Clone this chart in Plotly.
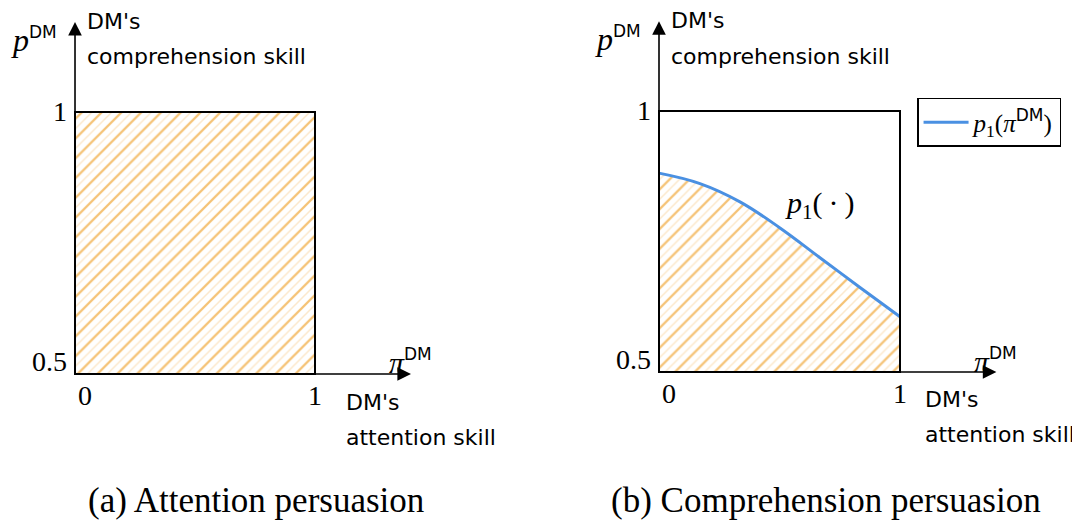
import plotly.graph_objects as go

# ---- data ----
pi_vals = [0.0, 0.17, 0.336, 0.502, 0.668, 0.834, 1.0]
p1_vals = [0.881, 0.861, 0.826, 0.776, 0.719, 0.662, 0.606]
x_ticks = [0, 1]
x_ticklabels = ["0", "1"]
y_ticks = [0.5, 1]
y_ticklabels = ["0.5", "1"]
captions = ["(a) Attention persuasion", "(b) Comprehension persuasion"]
DMSUP = "<sup><span style='font-family:DejaVu Sans;font-size:17px'>DM</span></sup>"
legend_name = "<i>p</i><sub>1</sub>(<i>π</i>" + DMSUP + ")"

SERIF = "Liberation Serif"
SANS = "DejaVu Sans"
LIGHT = "#f9d298"
DARK = "#ee9c1e"
BLUE = "#4a90e2"

fig = go.Figure()

HATCH = [(LIGHT, 7, 0.22), (DARK, 14, 0.17)]

# panel (a) hatched square
sq_x = [x_ticks[0], x_ticks[1], x_ticks[1], x_ticks[0], x_ticks[0]]
sq_y = [y_ticks[0], y_ticks[0], y_ticks[1], y_ticks[1], y_ticks[0]]
for col, sz, sol in HATCH:
    fig.add_trace(go.Scatter(x=sq_x, y=sq_y, xaxis="x", yaxis="y", mode="lines",
                             line=dict(width=0), fill="toself", fillcolor="rgba(0,0,0,0)",
                             fillpattern=dict(shape="/", fgcolor=col, bgcolor="rgba(0,0,0,0)",
                                              size=sz, solidity=sol),
                             showlegend=False, hoverinfo="skip"))

# panel (b) hatched area under the curve
for col, sz, sol in HATCH:
    fig.add_trace(go.Scatter(x=[pi_vals[0], pi_vals[-1]], y=[y_ticks[0], y_ticks[0]],
                             xaxis="x2", yaxis="y2", mode="lines", line=dict(width=0),
                             showlegend=False, hoverinfo="skip"))
    fig.add_trace(go.Scatter(x=pi_vals, y=p1_vals, xaxis="x2", yaxis="y2", mode="lines",
                             line=dict(width=0, shape="spline", smoothing=1.1), fill="tonexty",
                             fillcolor="rgba(0,0,0,0)",
                             fillpattern=dict(shape="/", fgcolor=col, bgcolor="rgba(0,0,0,0)",
                                              size=sz, solidity=sol),
                             showlegend=False, hoverinfo="skip"))

fig.add_trace(go.Scatter(x=pi_vals, y=p1_vals, xaxis="x2", yaxis="y2", mode="lines",
                         line=dict(color=BLUE, width=3, shape="spline", smoothing=1.1),
                         name=legend_name, showlegend=True))

shapes = []
annotations = []
def ann(xa, ya, x, y, text, font, size, xanchor="center", yanchor="middle", xs=0, ys=0):
    annotations.append(dict(xref=xa, yref=ya, x=x, y=y, text=text, showarrow=False,
                            xanchor=xanchor, yanchor=yanchor, xshift=xs, yshift=ys,
                            font=dict(family=font, size=size, color="black")))

for xa, ya, lx in [("x", "y", 1.12), ("x2", "y2", 1.095)]:
    shapes.append(dict(type="rect", xref=xa, yref=ya, x0=x_ticks[0], x1=x_ticks[1],
                       y0=y_ticks[0], y1=y_ticks[1], line=dict(color="black", width=2)))
    # axis arrows
    annotations.append(dict(xref=xa, yref=ya, axref=xa, ayref=ya, x=1.40, y=y_ticks[0],
                            ax=x_ticks[0], ay=y_ticks[0], showarrow=True, arrowhead=2,
                            arrowsize=1.7, arrowwidth=1.6, arrowcolor="black", text=""))
    annotations.append(dict(xref=xa, yref=ya, axref=xa, ayref=ya, x=x_ticks[0], y=1.172,
                            ax=x_ticks[0], ay=y_ticks[0], showarrow=True, arrowhead=2,
                            arrowsize=1.7, arrowwidth=1.6, arrowcolor="black", text=""))
    # tick labels
    for v, t in zip(x_ticks, x_ticklabels):
        ann(xa, ya, v, y_ticks[0], t, SERIF, 28, ys=-21, xs=(10 if v == 0 else 0))
    for v, t in zip(y_ticks, y_ticklabels):
        ann(xa, ya, x_ticks[0], v, t, SERIF, 28, xanchor="right", xs=-6,
            ys=(13 if v == y_ticks[0] else 1))
    # axis titles
    ann(xa, ya, -0.275, 1.137, "<i>p</i>" + DMSUP, SERIF, 32, xanchor="left")
    ann(xa, ya, 0.04, 1.1737, "DM's", SANS, 22, xanchor="left")
    ann(xa, ya, 0.04, 1.105, "comprehension skill", SANS, 22, xanchor="left")
    ann(xa, ya, 1.30, 0.523, "<i>π</i>" + DMSUP, SERIF, 30, xanchor="left")
    ann(xa, ya, lx, 0.4466, "DM's", SANS, 22, xanchor="left")
    ann(xa, ya, lx, 0.3798, "attention skill", SANS, 22, xanchor="left")

ann("x2", "y2", 0.668, 0.82, "<i>p</i><sub>1</sub>(\u2009·\u2009)", SERIF, 30)
ann("paper", "paper", 0.2313, 0.0409, captions[0], SERIF, 35)
ann("paper", "paper", 0.7631, 0.0409, captions[1], SERIF, 35)

fig.update_layout(
    width=1072, height=513, margin=dict(l=0, r=0, t=0, b=0),
    paper_bgcolor="white", plot_bgcolor="white",
    xaxis=dict(domain=[0, 0.5], range=[-0.2792, 1.9542], visible=False),
    yaxis=dict(domain=[0, 1], range=[0.2195, 1.1985], visible=False),
    xaxis2=dict(domain=[0.5, 1], range=[-0.4772, 1.7469], visible=False),
    yaxis2=dict(domain=[0, 1], range=[0.2146, 1.1973], visible=False),
    shapes=shapes, annotations=annotations,
    legend=dict(x=0.848, y=0.8246, xanchor="left", yanchor="top", bordercolor="black",
                borderwidth=1.5, bgcolor="white", itemwidth=45,
                font=dict(family=SERIF, size=25, color="black")),
)

fig.write_html("out.html")
